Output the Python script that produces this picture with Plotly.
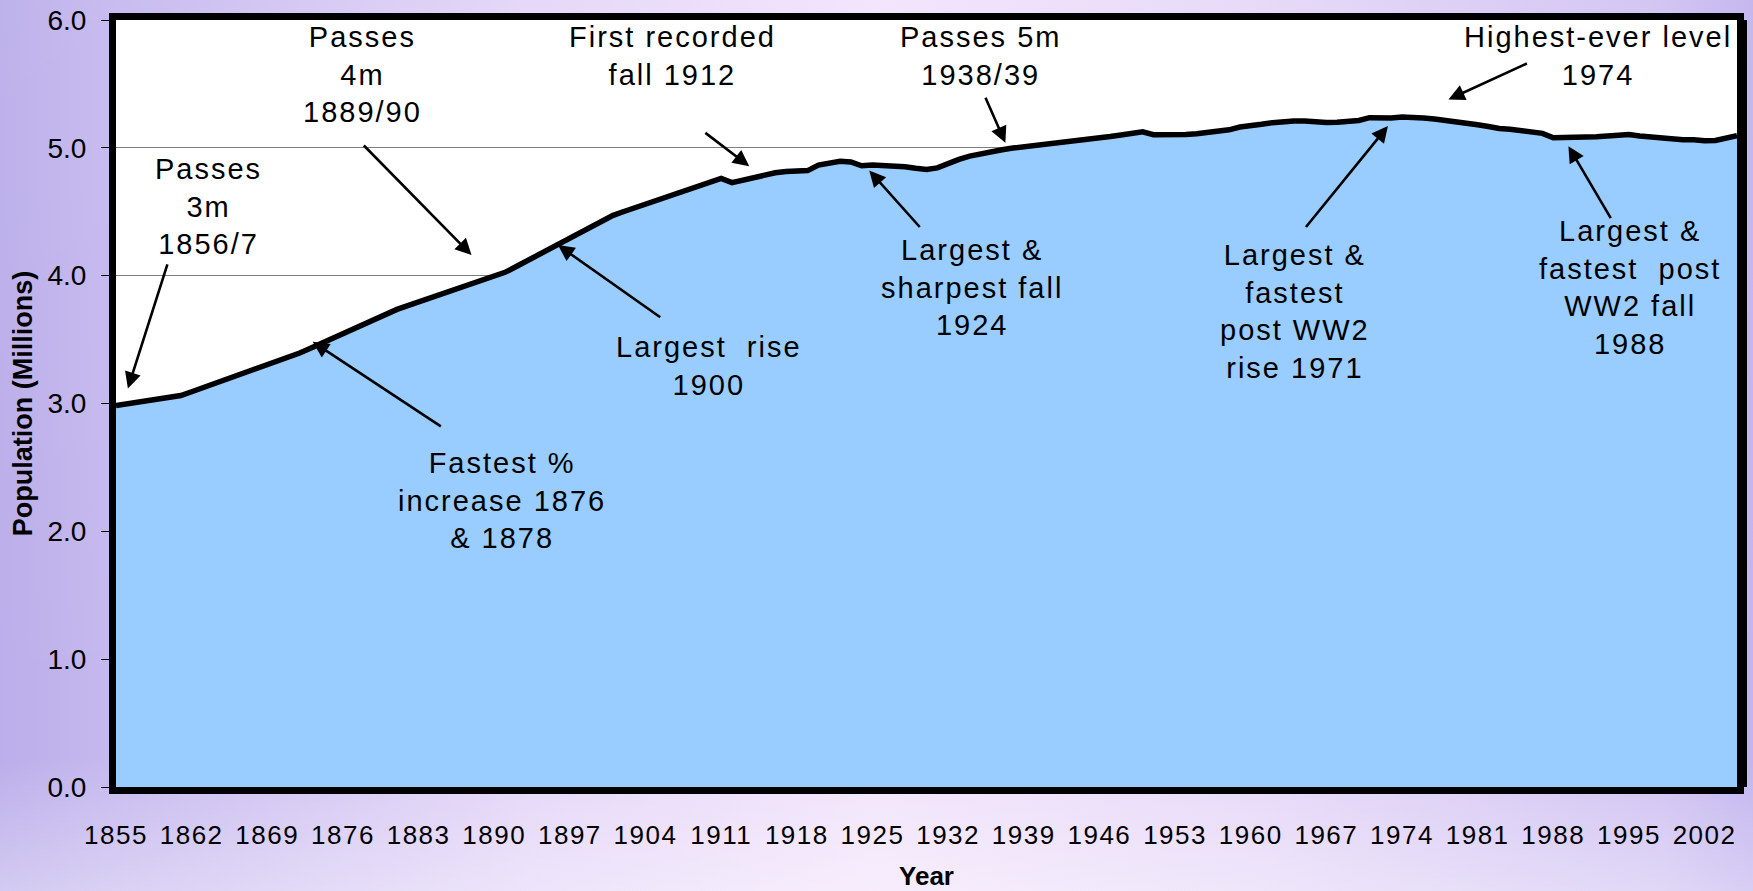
import base64
import plotly.graph_objects as go

# ---------------- data ----------------
years = list(range(1855, 2006))
population = [
    2.985, 2.998, 3.012, 3.026, 3.040, 3.052, 3.062, 3.092, 3.122, 3.152,   # 1855-1864
    3.182, 3.212, 3.242, 3.272, 3.301, 3.330, 3.360, 3.395, 3.432, 3.470,   # 1865-1874
    3.508, 3.550, 3.590, 3.632, 3.670, 3.704, 3.736, 3.765, 3.794, 3.823,   # 1875-1884
    3.852, 3.881, 3.910, 3.939, 3.968, 3.997, 4.026, 4.070, 4.114, 4.158,   # 1885-1894
    4.203, 4.248, 4.293, 4.338, 4.383, 4.430, 4.472, 4.502, 4.531, 4.560,   # 1895-1904
    4.589, 4.617, 4.645, 4.675, 4.705, 4.734, 4.761, 4.728, 4.747, 4.770,   # 1905-1914
    4.790, 4.805, 4.815, 4.820, 4.822, 4.865, 4.882, 4.895, 4.890, 4.860,   # 1915-1924
    4.865, 4.862, 4.858, 4.852, 4.840, 4.830, 4.843, 4.880, 4.910, 4.935,   # 1925-1934
    4.955, 4.970, 4.985, 4.998, 5.007, 5.020, 5.030, 5.040, 5.048, 5.057,   # 1935-1944
    5.066, 5.076, 5.088, 5.100, 5.115, 5.125, 5.103, 5.100, 5.100, 5.104,   # 1945-1954
    5.110, 5.118, 5.125, 5.141, 5.163, 5.178, 5.184, 5.197, 5.205, 5.209,   # 1955-1964
    5.210, 5.201, 5.198, 5.200, 5.208, 5.214, 5.236, 5.231, 5.234, 5.241,   # 1965-1974
    5.232, 5.233, 5.226, 5.212, 5.204, 5.194, 5.180, 5.167, 5.151, 5.146,   # 1975-1984
    5.137, 5.124, 5.113, 5.078, 5.078, 5.081, 5.083, 5.086, 5.092, 5.102,   # 1985-1994
    5.104, 5.092, 5.083, 5.077, 5.072, 5.063, 5.064, 5.055, 5.057, 5.078,   # 1995-2004
    5.095,                                                                 # 2005
]
x_tick_years = [1855, 1862, 1869, 1876, 1883, 1890, 1897, 1904, 1911, 1918, 1925,
                1932, 1939, 1946, 1953, 1960, 1967, 1974, 1981, 1988, 1995, 2002]
x_tick_labels = [str(v) for v in x_tick_years]
y_tick_values = [0, 1, 2, 3, 4, 5, 6]

# annotation texts with (text centre year, text centre value)
notes = [
    ("Passes<br>3m<br>1856/7", 1863.6, 4.54),
    ("Passes<br>4m<br>1889/90", 1877.8, 5.57),
    ("First recorded<br>fall 1912", 1906.5, 5.72),
    ("Passes 5m<br>1938/39", 1935.0, 5.72),
    ("Highest-ever level<br>1974", 1992.1, 5.72),
    ("Fastest %<br>increase 1876<br>& 1878", 1890.7, 2.245),
    ("Largest\u00a0 rise<br>1900", 1909.9, 3.29),
    ("Largest &<br>sharpest fall<br>1924", 1934.2, 3.905),
    ("Largest &<br>fastest<br>post WW2<br>rise 1971", 1964.1, 3.72),
    ("Largest &<br>fastest\u00a0 post<br>WW2 fall<br>1988", 1995.1, 3.91),
]
# arrows: (tail year, tail value, tip year, tip value)
arrows = [
    (1859.8, 4.100, 1856.1, 3.118),
    (1877.8, 5.030, 1887.9, 4.161),
    (1909.4, 5.126, 1913.6, 4.856),
    (1935.4, 5.404, 1937.3, 5.039),
    (1985.7, 5.665, 1978.3, 5.378),
    (1885.2, 2.813, 1873.2, 3.483),
    (1905.5, 3.666, 1895.9, 4.239),
    (1929.5, 4.369, 1924.7, 4.822),
    (1965.0, 4.369, 1972.7, 5.170),
    (1993.4, 4.439, 1989.4, 5.013),
]

FONT = "Liberation Sans, Arial, Helvetica, sans-serif"
W, H = 1753, 891
ML, MR, MT, MB = 116, 16, 20, 104

# ---------------- figure ----------------
fig = go.Figure()
fig.add_trace(go.Scatter(
    x=years, y=population, mode="lines",
    line=dict(color="black", width=5.5),
    fill="tozeroy", fillcolor="#99ccff",
    hoverinfo="x+y", showlegend=False,
))

annotations = []
for text, xx, yy in notes:
    annotations.append(dict(
        x=xx, y=yy, xref="x", yref="y", text=text, showarrow=False,
        xanchor="center", yanchor="middle", align="center",
        font=dict(family=FONT, size=29, color="black"),
    ))
for tx, ty, hx, hy in arrows:
    annotations.append(dict(
        x=hx, y=hy, ax=tx, ay=ty, xref="x", yref="y", axref="x", ayref="y",
        text="", showarrow=True, arrowhead=2, arrowsize=1.25, arrowwidth=2.6,
        arrowcolor="black", standoff=0, startstandoff=0,
    ))

# background gradient (whole page)
svg = f"""<svg xmlns='http://www.w3.org/2000/svg' width='{W}' height='{H}' viewBox='0 0 {W} {H}' preserveAspectRatio='none'>
<defs>
<linearGradient id='h' x1='0' y1='0' x2='1' y2='0'>
<stop offset='0' stop-color='#bbaeea'/>
<stop offset='0.06' stop-color='#c5b8ee'/>
<stop offset='0.3' stop-color='#e4d6f8'/>
<stop offset='0.5' stop-color='#f2e4fb'/>
<stop offset='0.72' stop-color='#e6d8f8'/>
<stop offset='0.95' stop-color='#d0c2f2'/>
<stop offset='1' stop-color='#c2b4ee'/>
</linearGradient>
<linearGradient id='v' x1='0' y1='0' x2='0' y2='1'>
<stop offset='0' stop-color='#ffffff' stop-opacity='0.05'/>
<stop offset='0.85' stop-color='#ffffff' stop-opacity='0.0'/>
<stop offset='1' stop-color='#ffffff' stop-opacity='0.35'/>
</linearGradient>
</defs>
<rect width='{W}' height='{H}' fill='url(#h)'/>
<rect width='{W}' height='{H}' fill='url(#v)'/>
</svg>"""
bg_uri = "data:image/svg+xml;base64," + base64.b64encode(svg.encode()).decode()
pw = W - ML - MR
ph = H - MT - MB

fig.update_layout(
    width=W, height=H,
    margin=dict(l=ML, r=MR, t=MT, b=MB, pad=0, autoexpand=False),
    paper_bgcolor="#ddd0f5", plot_bgcolor="white",
    font=dict(family=FONT, color="black"),
    showlegend=False,
    annotations=annotations,
    images=[dict(
        source=bg_uri, xref="paper", yref="paper",
        x=-ML / pw, y=1 + MT / ph, sizex=W / pw, sizey=H / ph,
        xanchor="left", yanchor="top", sizing="stretch", layer="below",
    )],
    shapes=[
        dict(type="rect", xref="paper", yref="paper", x0=0, x1=1, y0=0, y1=1,
             fillcolor="white", line=dict(width=0), layer="below"),
        # drop shadow on the right side of the frame
        dict(type="rect", xref="paper", xsizemode="pixel", xanchor=1, x0=6, x1=10,
             yref="paper", y0=0, y1=1, fillcolor="black", line=dict(width=0), layer="above"),
    ],
    xaxis=dict(
        range=[1855, 2005], tickmode="array", tickvals=x_tick_years, ticktext=x_tick_labels,
        showgrid=False, zeroline=False, showline=True, linewidth=7, linecolor="black",
        mirror=True, ticks="", tickfont=dict(size=26, family=FONT, color="black"),
        ticklabelstandoff=19, automargin=False,
        title=dict(text="Year", font=dict(size=26, family=FONT, weight="bold", color="black"),
                   standoff=24),
    ),
    yaxis=dict(
        range=[0, 6], tickmode="array", tickvals=y_tick_values, tickformat=".1f",
        showgrid=True, gridcolor="#808080", gridwidth=1, zeroline=False,
        showline=True, linewidth=7, linecolor="black", mirror=True,
        ticks="outside", ticklen=8, tickwidth=1, tickcolor="black",
        tickfont=dict(size=28, family=FONT, color="black"),
        ticklabelstandoff=9, automargin=False,
        title=dict(text="Population (Millions)",
                   font=dict(size=27, family=FONT, weight="bold", color="black"),
                   standoff=10),
    ),
)

post = """
document.body.style.margin = '0';
document.body.style.padding = '0';
document.body.style.overflow = 'hidden';
var gd = document.getElementById('{plot_id}');
function spacing(){
  gd.querySelectorAll('.annotation-text').forEach(function(t){ t.style.letterSpacing='2px'; });
  gd.querySelectorAll('.xtick text').forEach(function(t){ t.style.letterSpacing='1.5px'; });
}
spacing();
gd.on('plotly_afterplot', spacing);
"""
fig.write_html("out.html", post_script=post, config={"displayModeBar": False})
